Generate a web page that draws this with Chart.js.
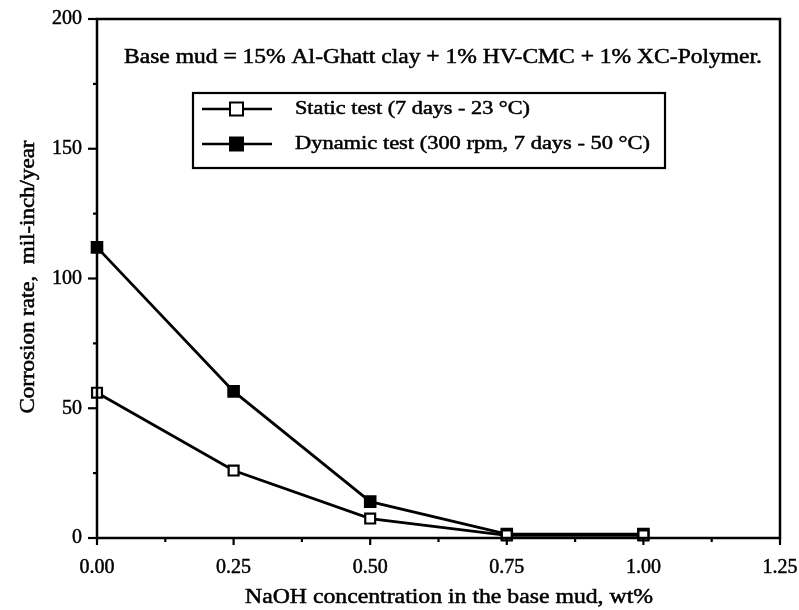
<!DOCTYPE html>
<html>
<head>
<meta charset="utf-8">
<script src="https://cdn.jsdelivr.net/npm/chart.js@4/dist/chart.umd.min.js"></script>
<style>
  html, body { margin: 0; padding: 0; background: #fff; }
  #wrap { width: 799px; height: 610px; }
</style>
</head>
<body>
<div id="wrap"><canvas id="chart" width="799" height="610"></canvas></div>
<script>
// Data
const naohConc = [0.00, 0.25, 0.50, 0.75, 1.00];
const staticRate = [56, 26, 7.5, 1, 1];
const dynamicRate = [112, 56.5, 14, 1.5, 1.5];
const seriesLabels = ['Static test (7 days - 23 \u00B0C)', 'Dynamic test (300 rpm, 7 days - 50 \u00B0C)'];
const xTickLabels = ['0.00', '0.25', '0.50', '0.75', '1.00', '1.25'];
const yTickLabels = ['0', '50', '100', '150', '200'];
const noteText = 'Base mud = 15% Al-Ghatt clay + 1% HV-CMC + 1% XC-Polymer.';
const xTitle = 'NaOH concentration in the base mud, wt%';
const yTitle = 'Corrosion rate,  mil-inch/year';

const serif = "'Liberation Serif', 'DejaVu Serif', serif";

// Draw a text stretched horizontally to a given width (the scanned Times runs wide and heavy)
function fitText(ctx, text, x, y, width, angle) {
    const w = ctx.measureText(text).width;
    ctx.save();
    ctx.translate(x, y);
    if (angle) ctx.rotate(angle);
    ctx.scale(width / w, 1);
    ctx.lineWidth = 0.5;
    ctx.strokeStyle = '#000';
    ctx.fillText(text, 0, 0);
    ctx.strokeText(text, 0, 0);
    ctx.restore();
}

const framePlugin = {
    id: 'framePlugin',
    afterDraw(chart) {
        const { ctx, chartArea: a, scales } = chart;
        const xs = scales.x, ys = scales.y;
        ctx.save();
        ctx.strokeStyle = '#000';
        ctx.lineWidth = 2.5;
        ctx.strokeRect(a.left, a.top, a.right - a.left, a.bottom - a.top);

        // Tick marks: major longer, minor shorter
        ctx.lineWidth = 2.2;
        xs.ticks.forEach((t, i) => {
            const px = xs.getPixelForValue(t.value);
            const major = i % 2 === 0;
            ctx.beginPath();
            ctx.moveTo(px, a.bottom);
            ctx.lineTo(px, a.bottom + (major ? 7 : 4));
            ctx.stroke();
        });
        ys.ticks.forEach((t, i) => {
            const py = ys.getPixelForValue(t.value);
            const major = i % 2 === 0;
            ctx.beginPath();
            ctx.moveTo(a.left, py);
            ctx.lineTo(a.left - (major ? 9 : 4), py);
            ctx.stroke();
        });

        ctx.fillStyle = '#000';
        ctx.textBaseline = 'middle';

        // Axis titles
        ctx.font = '20px ' + serif;
        ctx.textAlign = 'center';
        fitText(ctx, xTitle, 449, 598, 408);
        fitText(ctx, yTitle, 29, 277, 273, -Math.PI / 2);

        // Note text
        ctx.textAlign = 'left';
        ctx.font = '20px ' + serif;
        fitText(ctx, noteText, 124, 58, 638);

        // Legend box
        ctx.lineWidth = 2.2;
        ctx.strokeRect(193, 93, 472, 75);
        ctx.font = '19px ' + serif;
        const legendWidths = [235, 355];
        chart.data.datasets.forEach((ds, i) => {
            const cy = 109 + i * 35;
            ctx.beginPath();
            ctx.moveTo(202, cy);
            ctx.lineTo(272, cy);
            ctx.lineWidth = 2.5;
            ctx.stroke();
            ctx.lineWidth = 2;
            ctx.fillStyle = ds.pointBackgroundColor;
            ctx.fillRect(230, cy - 6.5, 13, 13);
            ctx.strokeRect(230, cy - 6.5, 13, 13);
            ctx.fillStyle = '#000';
            fitText(ctx, ds.label, 295, cy, legendWidths[i]);
        });
        ctx.restore();
    }
};

const ctx = document.getElementById('chart').getContext('2d');
new Chart(ctx, {
    type: 'scatter',
    plugins: [framePlugin],
    data: {
        datasets: [{
            label: seriesLabels[0],
            data: naohConc.map((x, i) => ({ x: x, y: staticRate[i] })),
            showLine: true,
            clip: false,
            borderColor: '#000',
            borderWidth: 2.8,
            pointStyle: 'rect',
            pointRadius: 7,
            pointBorderWidth: 2.2,
            pointBorderColor: '#000',
            pointBackgroundColor: '#fff'
        }, {
            label: seriesLabels[1],
            data: naohConc.map((x, i) => ({ x: x, y: dynamicRate[i] })),
            showLine: true,
            clip: false,
            borderColor: '#000',
            borderWidth: 2.8,
            pointStyle: 'rect',
            pointRadius: 7.5,
            pointBorderWidth: 2,
            pointBorderColor: '#000',
            pointBackgroundColor: '#000'
        }]
    },
    options: {
        responsive: false,
        animation: false,
        layout: { padding: { top: 19, right: 19, left: 0, bottom: 0 } },
        plugins: {
            legend: { display: false },
            tooltip: { enabled: false }
        },
        scales: {
            x: {
                type: 'linear',
                min: 0,
                max: 1.25,
                afterFit: (s) => { s.height = 72; s.paddingRight = 0; s.paddingLeft = 0; },
                afterBuildTicks: (s) => {
                    s.ticks = [];
                    for (let i = 0; i <= 10; i++) s.ticks.push({ value: i * 0.125 });
                },
                border: { display: false },
                grid: { display: false },
                ticks: {
                    autoSkip: false,
                    maxRotation: 0,
                    padding: 10,
                    color: '#000',
                    textStrokeColor: '#000',
                    textStrokeWidth: 0.5,
                    font: { family: serif, size: 20 },
                    callback: (v, i) => (i % 2 === 0 ? xTickLabels[i / 2] : '')
                }
            },
            y: {
                min: 0,
                max: 200,
                afterFit: (s) => { s.width = 97; s.paddingTop = 0; s.paddingBottom = 0; },
                afterBuildTicks: (s) => {
                    s.ticks = [];
                    for (let i = 0; i <= 8; i++) s.ticks.push({ value: i * 25 });
                },
                border: { display: false },
                grid: { display: false },
                ticks: {
                    autoSkip: false,
                    padding: 7,
                    color: '#000',
                    textStrokeColor: '#000',
                    textStrokeWidth: 0.5,
                    font: { family: serif, size: 20 },
                    callback: (v, i) => (i % 2 === 0 ? yTickLabels[i / 2] : '')
                }
            }
        }
    }
});
</script>
</body>
</html>
